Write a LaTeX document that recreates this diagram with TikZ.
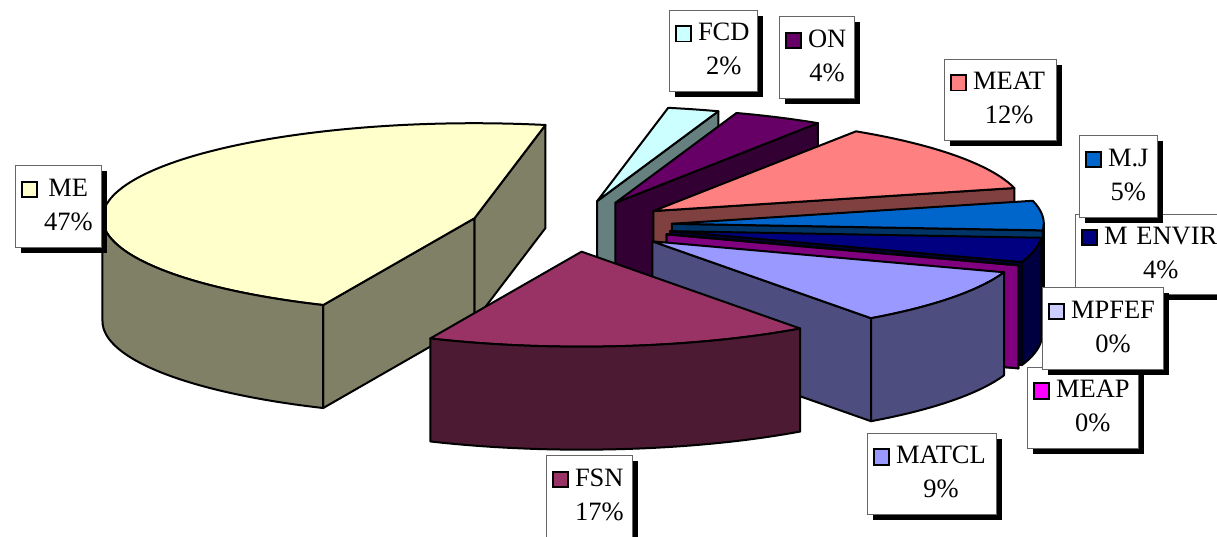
\documentclass[tikz,border=0pt]{standalone}
\usepackage{fontspec}
\setmainfont{Liberation Serif}
\usetikzlibrary{shadows}

\definecolor{meTop}{HTML}{FFFFCC}
\definecolor{meSide}{HTML}{808066}
\definecolor{fsnTop}{HTML}{993366}
\definecolor{fsnSide}{HTML}{4D1A33}
\definecolor{matTop}{HTML}{9999FF}
\definecolor{matSide}{HTML}{4D4D80}
\definecolor{meapTop}{HTML}{FF00FF}
\definecolor{meapSide}{HTML}{800080}
\definecolor{mpfTop}{HTML}{CCCCFF}
\definecolor{mpfSide}{HTML}{666680}
\definecolor{envTop}{HTML}{000080}
\definecolor{envSide}{HTML}{000040}
\definecolor{mjTop}{HTML}{0066CC}
\definecolor{mjSide}{HTML}{003366}
\definecolor{meatTop}{HTML}{FF8080}
\definecolor{meatSide}{HTML}{804040}
\definecolor{onTop}{HTML}{660066}
\definecolor{onSide}{HTML}{330033}
\definecolor{fcdTop}{HTML}{CCFFFF}
\definecolor{fcdSide}{HTML}{668080}

\newcommand\swatch[1]{{\setlength\fboxsep{0pt}\setlength\fboxrule{1.8pt}\fcolorbox{black}{#1}{\rule{0pt}{13.5pt}\hspace{13.5pt}}}}
\newcommand\legtext[3]{\begin{tabular}{@{}l@{\hspace{6pt}}c@{}}\swatch{#1}&#2\\&#3\end{tabular}}

\newcommand\pieslice[4]{%
	\pgfmathsetmacro\apx{571+101.2*cos((#1+#2)/2)}%
	\pgfmathsetmacro\apy{-226+25.8*sin((#1+#2)/2)}%
	\pgfmathsetmacro\cs{cos(#1)}%
	\pgfmathsetmacro\ce{cos(#2)}%
	\coordinate (A) at (\apx,\apy);
	\coordinate (Ab) at (\apx,\apy-103);
	\coordinate (S) at ([shift={(#1:372pt and 95pt)}]A);
	\coordinate (E) at ([shift={(#2:372pt and 95pt)}]A);
	\ifdim\cs pt>0pt
		\path[slice,fill=#4] (A) -- (S) -- ++(0,-103) -- (Ab) -- cycle;
	\fi
	\ifdim\ce pt<0pt
		\path[slice,fill=#4] (A) -- (E) -- ++(0,-103) -- (Ab) -- cycle;
	\fi
	\path[slice,fill=#3] (A) -- (S) arc[start angle=#1,end angle=#2,x radius=372pt,y radius=95pt] -- cycle;
}
\newcommand\pieside[3]{%
	\path[slice,fill=#3] ([shift={(#1:372pt and 95pt)}]A)
		arc[start angle=#1,end angle=#2,x radius=372pt,y radius=95pt] -- ++(0,-103)
		arc[start angle=#2,end angle=#1,x radius=372pt,y radius=95pt] -- cycle;
}

\begin{document}
\begin{tikzpicture}[x=1pt,y=1pt,
	slice/.style={draw=black,line width=2pt,line join=round},
	legbox/.style={draw=black!60,line width=0.8pt,fill=white,anchor=north west,
		inner xsep=5.5pt,inner ysep=0pt,align=left,font=\fontsize{26.5}{34}\selectfont,
		drop shadow={shadow xshift=5.5pt,shadow yshift=-5.5pt,fill=black,opacity=1}}
	]
	\useasboundingbox[fill=white] (0,0) rectangle (1217,-537);

	\pieslice{71}{79}{fcdTop}{fcdSide}
	\pieslice{57}{71}{onTop}{onSide}
	\pieslice{14}{57}{meatTop}{meatSide}
	\pieslice{-4}{14}{mjTop}{mjSide}
	\pieside{-4}{0}{mjSide}
	\pieslice{-19}{-4}{envTop}{envSide}
	\pieside{-19}{-4}{envSide}
	\pieslice{-19}{-19}{mpfTop}{mpfSide}
	\pieslice{-19}{-19}{meapTop}{meapSide}
	\pieslice{-54}{-19}{matTop}{matSide}
	\pieside{-54}{-19}{matSide}
	\pieslice{79}{246}{meTop}{meSide}
	\pieside{180}{246}{meSide}
	\pieslice{246}{306}{fsnTop}{fsnSide}
	\pieside{246}{306}{fsnSide}

	\node[legbox,minimum width=86pt,minimum height=82pt,text width=75pt] (lME) at (15,-165) {\legtext{meTop}{ME}{47\%}};
	\node[legbox,minimum width=86pt,minimum height=82pt,text width=75pt] (lFSN) at (546,-455) {\legtext{fsnTop}{FSN}{17\%}};
	\node[legbox,minimum width=129pt,minimum height=81pt,text width=118pt] (lMATCL) at (867,-433) {\legtext{matTop}{MATCL}{9\%}};
	\node[legbox,minimum width=111pt,minimum height=81pt,text width=100pt] (lMEAP) at (1027,-367) {\legtext{meapTop}{MEAP}{0\%}};
	\node[legbox,minimum width=150pt,minimum height=80pt,text width=139pt] (lENVIR) at (1075,-214) {\legtext{envTop}{M ENVIR}{4\%}};
	\node[legbox,minimum width=121pt,minimum height=82pt,text width=110pt] (lMPFEF) at (1042,-287) {\legtext{mpfTop}{MPFEF}{0\%}};
	\node[legbox,minimum width=78pt,minimum height=82pt,text width=67pt] (lMJ) at (1079,-135) {\legtext{mjTop}{M.J}{5\%}};
	\node[legbox,minimum width=112pt,minimum height=81pt,text width=101pt] (lMEAT) at (944,-59) {\legtext{meatTop}{MEAT}{12\%}};
	\node[legbox,minimum width=75pt,minimum height=82pt,text width=64pt] (lON) at (779,-16) {\legtext{onTop}{ON}{4\%}};
	\node[legbox,minimum width=88pt,minimum height=81pt,text width=77pt] (lFCD) at (669,-10) {\legtext{fcdTop}{FCD}{2\%}};
\end{tikzpicture}
\end{document}
